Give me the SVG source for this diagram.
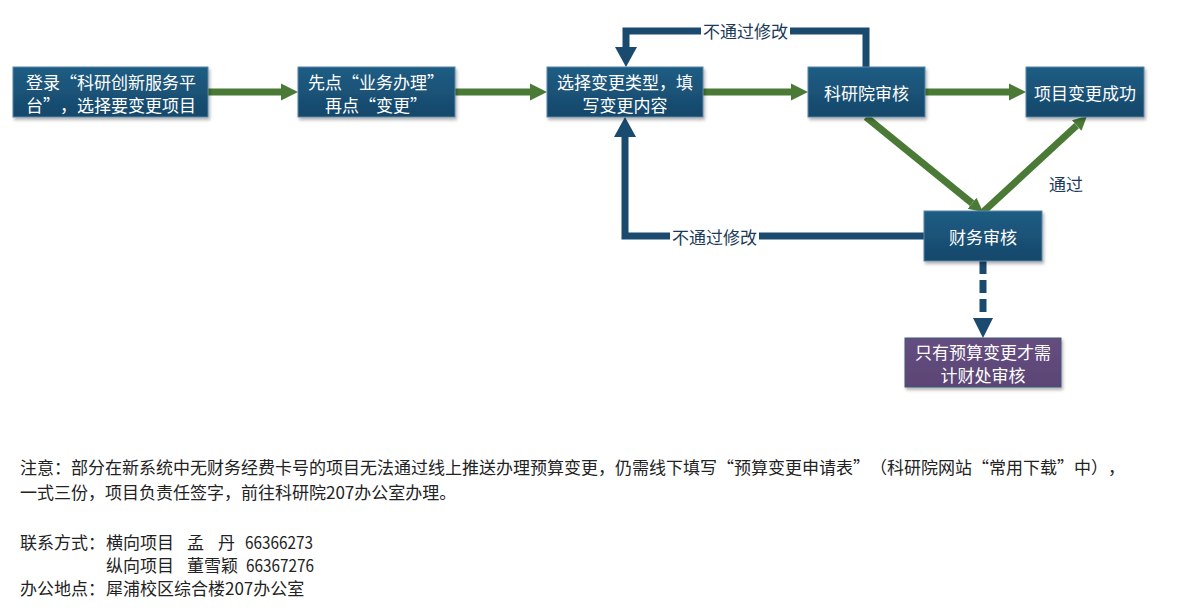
<svg xmlns="http://www.w3.org/2000/svg" width="1177" height="615" viewBox="0 0 1177 615" lang="zh-CN">
<style>
text{text-spacing-trim:space-all}
.box{fill:url(#gBlue);stroke:#5a86a8;stroke-width:1;filter:url(#sh)}
.pbox{fill:url(#gPurple);stroke:#3f5878;stroke-width:1;filter:url(#sh)}
.nt{font-family:"Noto Sans CJK SC","Noto Sans",sans-serif;font-size:17px;fill:#ffffff;text-anchor:middle;dominant-baseline:central}
.g{fill:none;stroke:#4a7a36;stroke-width:7}
.n{fill:none;stroke:#1a4a6e;stroke-width:7}
.lbl{font-family:"Noto Sans CJK SC","Noto Sans",sans-serif;font-size:17px;fill:#1b3a57;text-anchor:middle;dominant-baseline:central}
.note{font-family:"Noto Sans CJK SC","Noto Sans",sans-serif;font-size:17px;fill:#222222;dominant-baseline:central}
</style>
<defs>
<linearGradient id="gBlue" x1="0" y1="0" x2="0" y2="1">
<stop offset="0" stop-color="#1f5d84"/>
<stop offset="1" stop-color="#16476a"/>
</linearGradient>
<linearGradient id="gPurple" x1="0" y1="0" x2="0" y2="1">
<stop offset="0" stop-color="#654e80"/>
<stop offset="1" stop-color="#5a4575"/>
</linearGradient>
<filter id="sh" x="-10%" y="-20%" width="130%" height="150%">
<feDropShadow dx="1.5" dy="2.5" stdDeviation="1.5" flood-color="#000" flood-opacity="0.3"/>
</filter>
<marker id="ag" markerUnits="userSpaceOnUse" markerWidth="20" markerHeight="20" viewBox="0 -10 20 20" refX="0" refY="0" orient="auto">
<path d="M0,-8.5 L17,0 L0,8.5 Z" fill="#4a7a36"/>
</marker>
<marker id="ags" markerUnits="userSpaceOnUse" markerWidth="16" markerHeight="16" viewBox="0 -8 16 16" refX="0" refY="0" orient="auto">
<path d="M0,-7 L14,0 L0,7 Z" fill="#4a7a36"/>
</marker>
<marker id="an" markerUnits="userSpaceOnUse" markerWidth="24" markerHeight="24" viewBox="0 -12 24 24" refX="0" refY="0" orient="auto">
<path d="M0,-11 L20,0 L0,11 Z" fill="#1a4a6e"/>
</marker>
<marker id="and" markerUnits="userSpaceOnUse" markerWidth="24" markerHeight="24" viewBox="0 -12 24 24" refX="0" refY="0" orient="auto">
<path d="M0,-10 L20,0 L0,10 Z" fill="#1a4a6e"/>
</marker>
</defs>
<rect width="1177" height="615" fill="#ffffff"/>

<g id="connectors">
<path class="g" d="M208,92 H281" marker-end="url(#ag)"/>
<path class="g" d="M455,92 H530" marker-end="url(#ag)"/>
<path class="g" d="M703,92 H791" marker-end="url(#ag)"/>
<path class="g" d="M925,92 H1009" marker-end="url(#ag)"/>
<path class="g" d="M866,117 L972.1,203.2" marker-end="url(#ags)"/>
<path class="g" d="M983,212 L1076.7,125.5" marker-end="url(#ags)"/>
<path class="n" d="M866,67 V31 H626 V47" marker-end="url(#an)"/>
<path class="n" d="M924,236 H625 V137" marker-end="url(#an)"/>
<path class="n" d="M983,261 V318" stroke-dasharray="13 6" marker-end="url(#and)"/>
<rect x="701" y="20" width="89" height="22" fill="#ffffff"/>
<text class="lbl" x="745.5" y="30">不通过修改</text>
<rect x="670" y="225" width="89" height="22" fill="#ffffff"/>
<text class="lbl" x="714.5" y="236">不通过修改</text>
<text class="lbl" x="1066" y="183">通过</text>
</g>

<g id="node-login">
<rect class="box" x="13" y="67" width="195" height="50"/>
<text class="nt"><tspan x="111" y="80.5">登录“科研创新服务平</tspan><tspan x="111" y="103.5">台”，选择要变更项目</tspan></text>
</g>
<g id="node-click">
<rect class="box" x="298" y="67" width="157" height="50"/>
<text class="nt"><tspan x="376" y="80.5">先点“业务办理”</tspan><tspan x="376" y="103.5">再点“变更”</tspan></text>
</g>
<g id="node-select">
<rect class="box" x="547" y="67" width="156" height="50"/>
<text class="nt"><tspan x="625" y="80.5">选择变更类型，填</tspan><tspan x="625" y="103.5">写变更内容</tspan></text>
</g>
<g id="node-research">
<rect class="box" x="808" y="67" width="117" height="50"/>
<text class="nt" x="866.5" y="92">科研院审核</text>
</g>
<g id="node-success">
<rect class="box" x="1026" y="67" width="118" height="50"/>
<text class="nt" x="1085" y="92">项目变更成功</text>
</g>
<g id="node-finance">
<rect class="box" x="924" y="211" width="118" height="50"/>
<text class="nt" x="983" y="236">财务审核</text>
</g>
<g id="node-budget">
<rect class="pbox" x="905" y="338" width="156" height="49"/>
<text class="nt"><tspan x="983" y="351">只有预算变更才需</tspan><tspan x="983" y="374">计财处审核</tspan></text>
</g>

<g id="notes">
<text class="note" x="20" y="466">注意：部分在新系统中无财务经费卡号的项目无法通过线上推送办理预算变更，仍需线下填写“预算变更申请表”（科研院网站“常用下载”中），</text>
<text class="note" x="20" y="491">一式三份，项目负责任签字，前往科研院207办公室办理。</text>
<text class="note" x="20" y="541">联系方式：</text>
<text class="note" x="106" y="541">横向项目</text>
<text class="note" x="187" y="541">孟</text>
<text class="note" x="218" y="541">丹</text>
<text class="note" x="245" y="541" textLength="68" lengthAdjust="spacingAndGlyphs">66366273</text>
<text class="note" x="106" y="564">纵向项目</text>
<text class="note" x="187" y="564">董雪颖</text>
<text class="note" x="246" y="564" textLength="68" lengthAdjust="spacingAndGlyphs">66367276</text>
<text class="note" x="20" y="587">办公地点：</text>
<text class="note" x="106" y="587">犀浦校区综合楼207办公室</text>
</g>
</svg>
